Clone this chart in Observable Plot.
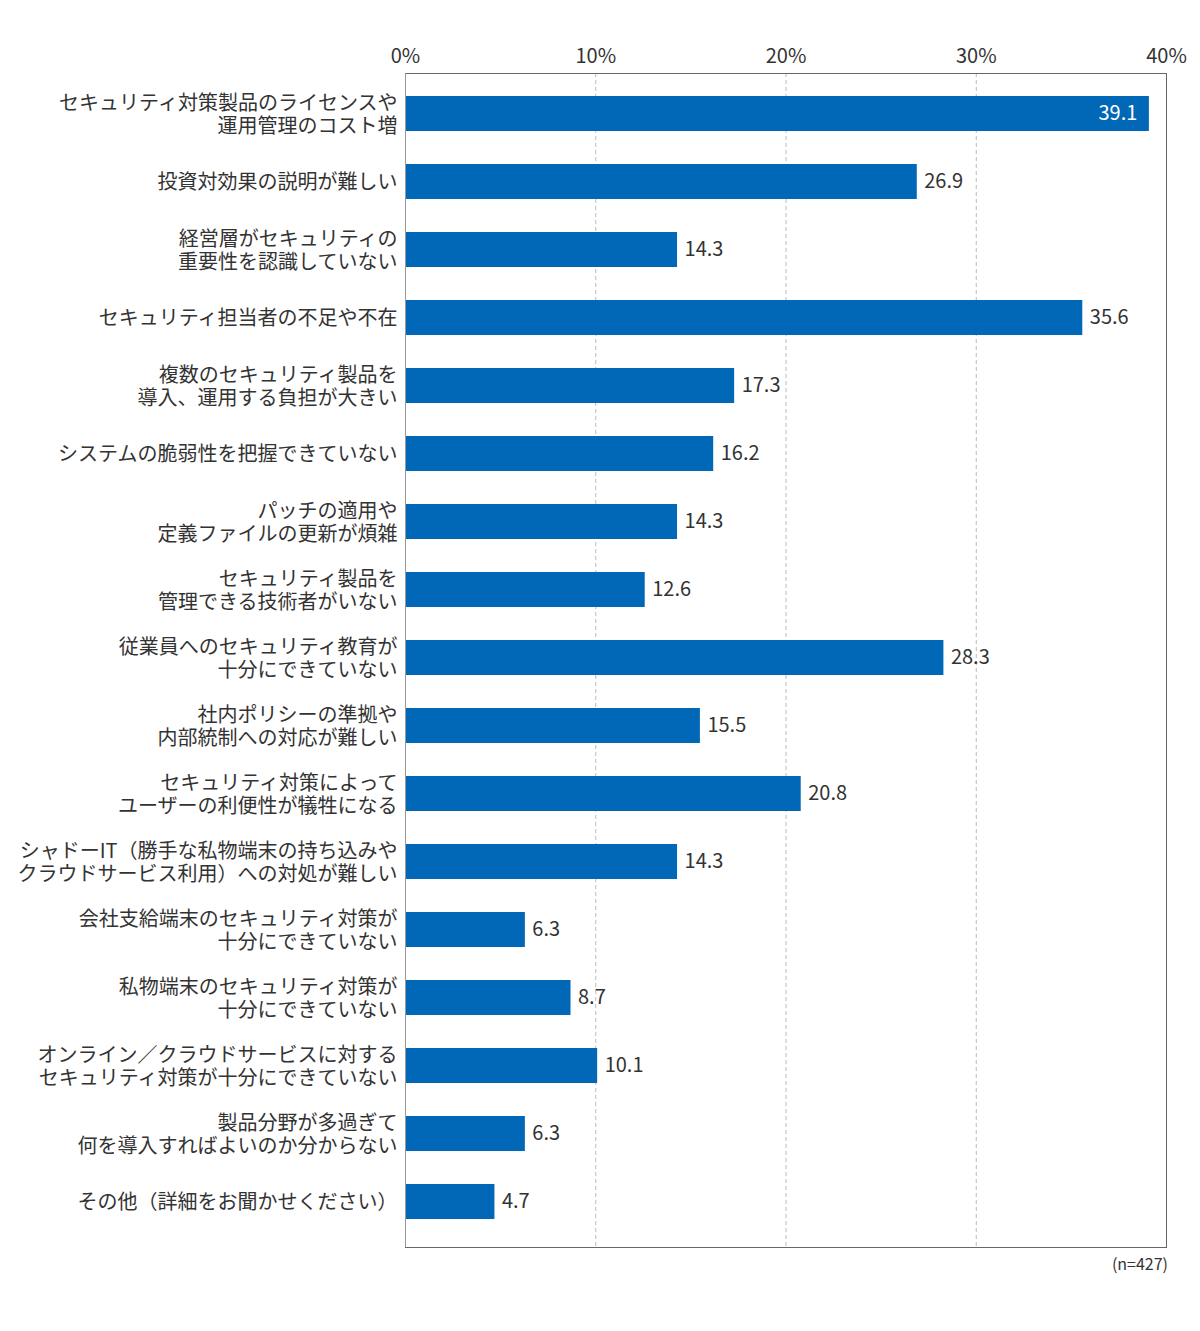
<!DOCTYPE html>
<html><head><meta charset="utf-8">
<script src="https://cdn.jsdelivr.net/npm/d3@7"></script>
<script src="https://cdn.jsdelivr.net/npm/@observablehq/plot@0.6"></script>
<style>
body{margin:0;background:#fff;font-family:"Noto Sans CJK JP","Noto Sans",sans-serif;}
#cap{width:1200px;box-sizing:border-box;padding-right:32px;text-align:right;font-size:16px;color:#333;margin-top:1px;}
</style></head><body>
<div id="chart"></div>
<div id="cap">(n=427)</div>
<script>
const categories = [
  "セキュリティ対策製品のライセンスや\n運用管理のコスト増",
  "投資対効果の説明が難しい",
  "経営層がセキュリティの\n重要性を認識していない",
  "セキュリティ担当者の不足や不在",
  "複数のセキュリティ製品を\n導入、運用する負担が大きい",
  "システムの脆弱性を把握できていない",
  "パッチの適用や\n定義ファイルの更新が煩雑",
  "セキュリティ製品を\n管理できる技術者がいない",
  "従業員へのセキュリティ教育が\n十分にできていない",
  "社内ポリシーの準拠や\n内部統制への対応が難しい",
  "セキュリティ対策によって\nユーザーの利便性が犠牲になる",
  "シャドーIT（勝手な私物端末の持ち込みや\nクラウドサービス利用）への対処が難しい",
  "会社支給端末のセキュリティ対策が\n十分にできていない",
  "私物端末のセキュリティ対策が\n十分にできていない",
  "オンライン／クラウドサービスに対する\nセキュリティ対策が十分にできていない",
  "製品分野が多過ぎて\n何を導入すればよいのか分からない",
  "その他（詳細をお聞かせください）"
];
const values = [39.1, 26.9, 14.3, 35.6, 17.3, 16.2, 14.3, 12.6, 28.3, 15.5, 20.8, 14.3, 6.3, 8.7, 10.1, 6.3, 4.7];
const xTicks = [0, 10, 20, 30, 40];

const data = categories.map((c, i) => ({cat: c, v: values[i]}));
const font = '"Noto Sans CJK JP","Noto Sans",sans-serif';

const chart = Plot.plot({
  width: 1200,
  height: 1250,
  marginLeft: 405,
  marginRight: 34,
  marginTop: 73,
  marginBottom: 3,
  style: {fontFamily: font, fontSize: "20px", color: "#333", background: "#fff"},
  x: {domain: [0, 40], ticks: xTicks},
  y: {domain: categories, paddingInner: 0.49, paddingOuter: 0.34, align: 0.44},
  marks: [
    Plot.ruleX([10, 20, 30], {stroke: "#bbb", strokeDasharray: "4,3", strokeWidth: 1}),
    Plot.barX(data, {x: "v", y: "cat", fill: "#0068b7"}),
    Plot.text(data.filter(d => d.v >= 38), {x: "v", y: "cat", text: d => d.v.toFixed(1), textAnchor: "end", dx: -12, fill: "#fff", fontSize: 20}),
    Plot.text(data.filter(d => d.v < 38), {x: "v", y: "cat", text: d => d.v.toFixed(1), textAnchor: "start", dx: 7, fill: "#333", fontSize: 20}),
    Plot.frame({stroke: "#666", strokeWidth: 1}),
    Plot.ruleX([0], {stroke: "#999", strokeWidth: 1}),
    Plot.axisX({anchor: "top", ticks: xTicks, tickSize: 0, tickPadding: 11, tickFormat: d => d + "%", fontSize: 20, fill: "#333", label: null}),
    Plot.axisY({anchor: "left", tickSize: 0, tickPadding: 8, fontSize: 20, lineHeight: 1.15, fill: "#333", label: null})
  ]
});
document.getElementById("chart").appendChild(chart);
</script>
</body></html>
